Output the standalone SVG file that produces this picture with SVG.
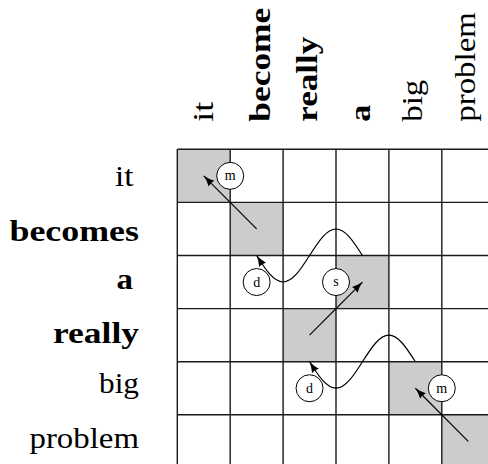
<svg xmlns="http://www.w3.org/2000/svg" width="488" height="464" viewBox="0 0 488 464">
<style>
.lbl{font-family:'Liberation Serif','Times New Roman',serif;font-size:30px;fill:#000}
.b{font-weight:bold}
.cell{fill:#cccccc;stroke:none}
.grid{stroke:#1a1a1a;stroke-width:1.4;fill:none}
.conn{stroke:#000;stroke-width:1.2;fill:none;marker-end:url(#ah)}
.nd circle{fill:#fff;stroke:#000;stroke-width:1}
.nd text{font-family:'Liberation Serif','Times New Roman',serif;font-size:14px;text-anchor:middle;fill:#000}
</style>
<defs>
<marker id="ah" markerUnits="userSpaceOnUse" markerWidth="12" markerHeight="9" viewBox="0 0 12 9" refX="11.5" refY="4.5" orient="auto">
<path d="M11.5,4.5 Q6,5.6 0.5,8.5 Q2,4.5 0.5,0.5 Q6,3.4 11.5,4.5 Z" fill="#000"/>
</marker>
</defs>
<rect width="488" height="464" fill="#fff"/>
<g id="cells">
<rect class="cell" x="177.3" y="149.3" width="52.9" height="53.1"/>
<rect class="cell" x="230.2" y="202.4" width="52.9" height="53.1"/>
<rect class="cell" x="336.0" y="255.5" width="52.9" height="53.1"/>
<rect class="cell" x="283.1" y="308.6" width="52.9" height="53.1"/>
<rect class="cell" x="388.9" y="361.7" width="52.9" height="53.1"/>
<rect class="cell" x="441.8" y="414.8" width="52.9" height="53.1"/>
</g>
<g id="gridlines" class="grid">
<path d="M177.3,149.3V468M230.2,149.3V468M283.1,149.3V468M336,149.3V468M388.9,149.3V468M441.8,149.3V468"/>
<path d="M177.3,149.3H496M177.3,202.4H496M177.3,255.5H496M177.3,308.6H496M177.3,361.7H496M177.3,414.8H496"/>
</g>
<g id="row-labels">
<text id="r-it" class="lbl" x="115" y="186" textLength="18.5" lengthAdjust="spacingAndGlyphs">it</text>
<text id="r-becomes" class="lbl b" x="9.5" y="240.7" textLength="129.5" lengthAdjust="spacingAndGlyphs">becomes</text>
<text id="r-a" class="lbl b" x="116.5" y="289.3" textLength="16.5" lengthAdjust="spacingAndGlyphs">a</text>
<text id="r-really" class="lbl b" x="53" y="342.7" textLength="86" lengthAdjust="spacingAndGlyphs">really</text>
<text id="r-big" class="lbl" x="99" y="392.7" textLength="40" lengthAdjust="spacingAndGlyphs">big</text>
<text id="r-problem" class="lbl" x="29.5" y="448.3" textLength="109.5" lengthAdjust="spacingAndGlyphs">problem</text>
</g>
<g id="col-labels">
<text id="c-it" class="lbl" transform="translate(213.3,121.7) rotate(-90)" textLength="20" lengthAdjust="spacingAndGlyphs">it</text>
<text id="c-become" class="lbl b" transform="translate(270,121.7) rotate(-90)" textLength="114" lengthAdjust="spacingAndGlyphs">become</text>
<text id="c-really" class="lbl b" transform="translate(316.7,121.7) rotate(-90)" textLength="85" lengthAdjust="spacingAndGlyphs">really</text>
<text id="c-a" class="lbl b" transform="translate(370,121.7) rotate(-90)" textLength="17" lengthAdjust="spacingAndGlyphs">a</text>
<text id="c-big" class="lbl" transform="translate(421.7,121.7) rotate(-90)" textLength="42" lengthAdjust="spacingAndGlyphs">big</text>
<text id="c-problem" class="lbl" transform="translate(475,121.7) rotate(-90)" textLength="109.5" lengthAdjust="spacingAndGlyphs">problem</text>
</g>
<g id="connectors">
<path class="conn" d="M256.65,228.95L203.75,175.85"/>
<path class="conn" d="M309.55,335.15L362.45,282.05"/>
<path class="conn" d="M468.25,441.35L415.35,388.25"/>
<path id="wave1" class="conn" d="M362.45,255.5C353.61,241.58 345.47,229 336,229C326.53,229 318.39,241.58 309.55,255.5C300.71,269.42 292.57,282 283.1,282C273.63,282 265.49,269.42 256.65,255.5"/>
<path id="wave2" class="conn" transform="translate(52.9,106.2)" d="M362.45,255.5C353.61,241.58 345.47,229 336,229C326.53,229 318.39,241.58 309.55,255.5C300.71,269.42 292.57,282 283.1,282C273.63,282 265.49,269.42 256.65,255.5"/>
</g>
<g id="node-m1" class="nd"><circle cx="230.2" cy="175.85" r="13.5"/><text x="230.2" y="180.2">m</text></g>
<g id="node-d1" class="nd"><circle cx="256.65" cy="282.05" r="13.5"/><text x="256.65" y="286.8">d</text></g>
<g id="node-s" class="nd"><circle cx="336" cy="282.05" r="13.5"/><text x="336" y="286.4">s</text></g>
<g id="node-d2" class="nd"><circle cx="309.55" cy="388.25" r="13.5"/><text x="309.55" y="393">d</text></g>
<g id="node-m2" class="nd"><circle cx="441.8" cy="388.25" r="13.5"/><text x="441.8" y="392.6">m</text></g>
</svg>
